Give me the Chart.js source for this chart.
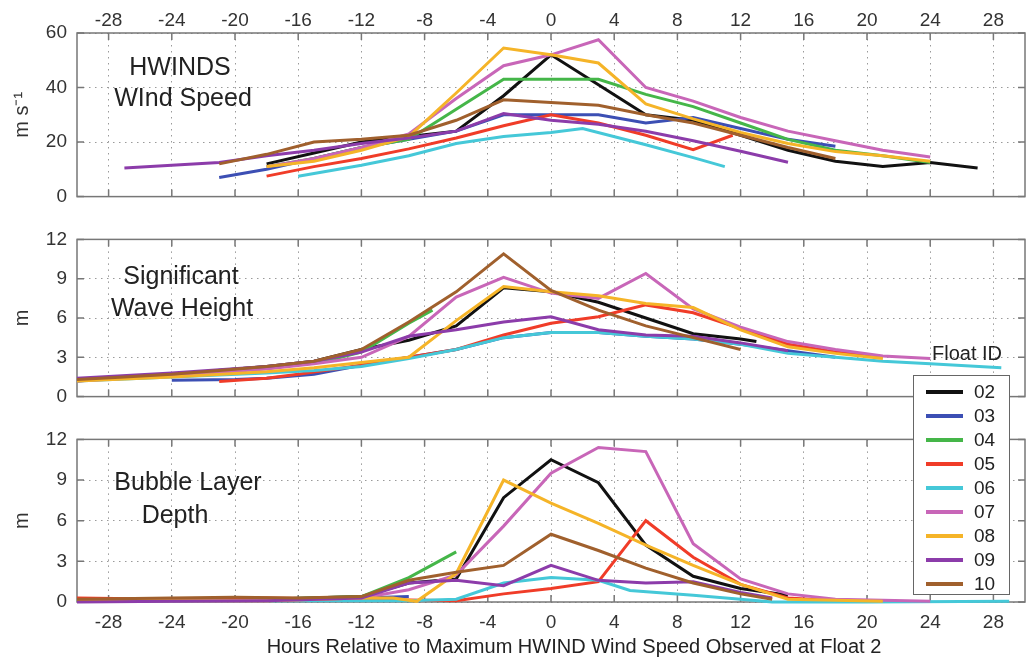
<!DOCTYPE html>
<html>
<head>
<meta charset="utf-8">
<title>Float time series</title>
<script src="https://cdn.jsdelivr.net/npm/chart.js@4.4.1/dist/chart.umd.min.js"></script>
<style>
  body { margin: 0; background: #fff; width: 1030px; height: 661px; overflow: hidden; position: relative;
         font-family: 'Liberation Sans', Arial, Helvetica, sans-serif; }
  .panel { position: absolute; left: 0; width: 1030px; }
  #legendTitle { position: absolute; left: 913px; width: 108px; top: 340px; height: 26px; line-height: 26px;
                 text-align: center; font-size: 20px; color: #222; z-index: 5; }
  #legendBox { position: absolute; left: 913px; top: 375px; width: 97px; height: 220px; background: #fff;
               border: 1.5px solid #666; z-index: 5; padding-top: 4px; box-sizing: border-box; }
  .legendRow { position: relative; height: 24px; }
  .legendRow span.swatch { position: absolute; left: 12px; top: 10px; width: 37px; height: 4px; }
  .legendRow span.txt { position: absolute; left: 60px; top: 0; line-height: 24px; font-size: 19px; color: #222; }
</style>
</head>
<body>
<div class="panel" style="top:0;height:218px"><canvas id="windChart"></canvas></div>
<div class="panel" style="top:218px;height:200px"><canvas id="waveChart"></canvas></div>
<div class="panel" style="top:418px;height:243px"><canvas id="bubbleChart"></canvas></div>
<div id="legendTitle">Float ID</div>
<div id="legendBox"></div>
<script>
// Float ids and their line colours
const floatIds = ['02', '03', '04', '05', '06', '07', '08', '09', '10'];
const floatColors = ['#111111', '#3c4fb4', '#45b649', '#f03c28', '#45c8d8', '#c866b8', '#f5b428', '#8c3caa', '#a0602d'];

// Hours relative to max HWIND wind speed at float 2
const xTicks = [-28, -24, -20, -16, -12, -8, -4, 0, 4, 8, 12, 16, 20, 24, 28];

// HWINDS wind speed (m/s), [hour, value]
const wind02 = [[-18,12],[-15,16],[-12,20],[-9,22],[-6,24],[-3,37],[0,52],[3,41],[6,30],[9,28],[12,22.5],[15,17],[18,13],[21,11],[24,12.5],[27,10.5]];
const wind03 = [[-21,7],[-18,10],[-15,14],[-12,18],[-9,21],[-6,24],[-3,30],[0,30],[3,30],[6,27],[9,29],[12,25],[15,21],[18,18.5]];
const wind04 = [[-18,11],[-15,14],[-12,18],[-9,21],[-6,32],[-3,43],[0,43],[3,43],[6,37.5],[9,33],[12,27],[15,21],[18,17],[21,15],[24,12.5]];
const wind05 = [[-18,7.5],[-15,11],[-12,14],[-9,17.5],[-6,21.5],[-3,26],[0,30],[3,27],[6,22.5],[9,17.2],[11.5,22.5]];
const wind06 = [[-16,7.5],[-12,11.5],[-9,15],[-6,19.5],[-3,22],[0,23.5],[2,25],[6,19],[9,14.3],[11,11]];
const wind07 = [[-18,11],[-15,14],[-12,18],[-9,23],[-6,36],[-3,48],[0,52],[3,57.5],[6,40],[9,35],[12,29],[15,24],[18,20.5],[21,17],[24,14.5]];
const wind08 = [[-18,11],[-15,13],[-12,17],[-9,22],[-6,38],[-3,54.5],[0,52],[3,49],[6,34],[9,28.5],[12,23.5],[15,19.5],[18,16.5],[21,15],[24,13]];
const wind09 = [[-27,10.5],[-24,11.5],[-21,12.5],[-18,15],[-15,17],[-12,19.5],[-9,21.5],[-6,24],[-3,30.5],[0,28],[3,26.5],[6,24],[9,20.5],[12,16.6],[15,12.6]];
const wind10 = [[-21,12],[-18,15.5],[-15,20],[-12,21],[-9,22.5],[-6,28],[-3,35.5],[0,34.5],[3,33.5],[6,30],[9,27],[12,22.5],[15,18],[18,14]];

// Significant wave height (m)
const wave02 = [[-30,1.2],[-24,1.7],[-18,2.3],[-15,2.7],[-12,3.6],[-9,4.3],[-6,5.4],[-3,8.3],[0,8.0],[3,7.2],[6,6.0],[9,4.8],[12,4.4],[13,4.2]];
const wave03 = [[-24,1.25],[-20,1.3],[-18,1.4],[-15,1.7],[-12,2.4],[-9,3.0],[-6,3.6],[-3,4.5],[0,4.9],[3,4.9],[6,4.6],[9,4.4],[12,4.0],[15,3.5],[18,3.0]];
const wave04 = [[-30,1.3],[-24,1.7],[-18,2.2],[-14,2.8],[-12,3.4],[-9,5.6],[-7.5,6.6]];
const wave05 = [[-21,1.15],[-18,1.4],[-16,1.7],[-12,2.4],[-9,3.0],[-6,3.6],[-3,4.7],[0,5.6],[3,6.1],[6,7.0],[9,6.4],[12,5.2],[15,4.0],[18,3.4],[21,3.0]];
const wave06 = [[-30,1.2],[-24,1.5],[-18,1.8],[-15,2.0],[-12,2.3],[-9,2.9],[-6,3.6],[-3,4.5],[0,4.9],[3,4.9],[6,4.6],[9,4.4],[12,4.0],[15,3.3],[18,3.0],[21,2.7],[24,2.5],[28.5,2.2]];
const wave07 = [[-30,1.2],[-24,1.6],[-18,2.1],[-15,2.5],[-12,3.0],[-9,4.6],[-6,7.6],[-3,9.1],[0,7.9],[3,7.5],[6,9.4],[9,6.7],[12,5.3],[15,4.2],[18,3.6],[21,3.1],[24,2.9]];
const wave08 = [[-30,1.2],[-24,1.5],[-18,1.9],[-15,2.2],[-12,2.6],[-9,3.0],[-6,5.8],[-3,8.4],[0,8.0],[3,7.7],[6,7.1],[9,6.8],[12,5.1],[15,3.8],[18,3.3],[21,2.9]];
const wave09 = [[-30,1.4],[-24,1.8],[-18,2.3],[-15,2.7],[-12,3.4],[-9,4.6],[-6,5.1],[-3,5.7],[0,6.1],[3,5.1],[6,4.7],[9,4.6],[12,4.1],[15,3.5]];
const wave10 = [[-30,1.3],[-27,1.5],[-24,1.7],[-21,2.0],[-18,2.3],[-15,2.7],[-12,3.6],[-9,5.7],[-6,8.0],[-3,10.9],[0,8.1],[3,6.6],[6,5.4],[9,4.5],[12,3.6]];

// Bubble layer depth (m)
const bubble02 = [[-30,0.1],[-24,0.2],[-18,0.2],[-12,0.4],[-9,1.4],[-6,1.7],[-3,7.7],[0,10.5],[3,8.8],[6,4.2],[9,1.9],[12,1.0],[15,0.5]];
const bubble03 = [[-24,0.1],[-18,0.15],[-12,0.3],[-9,0.4]];
const bubble04 = [[-30,0.1],[-24,0.2],[-18,0.2],[-12,0.4],[-9,1.8],[-6,3.7]];
const bubble05 = [[-30,0.3],[-24,0.2],[-18,0.3],[-12,0.2],[-6,0.1],[-3,0.6],[0,1.0],[3,1.5],[6,6.0],[9,3.3],[12,1.3],[15,0.3],[18,0.1],[21,0.05]];
const bubble06 = [[-30,0.05],[-18,0.1],[-12,0.1],[-9,0.1],[-6,0.2],[-3,1.4],[0,1.8],[3,1.6],[5,0.85],[9,0.5],[12,0.2],[14,0],[20,0],[29,0.05]];
const bubble07 = [[-30,0.1],[-24,0.1],[-18,0.1],[-12,0.3],[-9,0.9],[-6,2.0],[-3,5.6],[0,9.5],[3,11.4],[6,11.1],[9,4.3],[12,1.7],[15,0.6],[18,0.2],[24,0.05]];
const bubble08 = [[-30,0.1],[-24,0.1],[-18,0.1],[-12,0.3],[-10,0.3],[-8.5,0.05],[-6,2.1],[-3,9.0],[0,7.3],[3,5.8],[6,4.2],[9,2.7],[12,1.3],[15,0.2],[21,0.05]];
const bubble09 = [[-30,0.0],[-24,0.05],[-18,0.1],[-12,0.3],[-9,1.4],[-6,1.6],[-3,1.2],[0,2.7],[3,1.6],[6,1.4],[9,1.5],[12,0.7],[14,0.3]];
const bubble10 = [[-30,0.2],[-24,0.3],[-20,0.35],[-16,0.3],[-12,0.4],[-9,1.6],[-6,2.2],[-3,2.7],[0,5.0],[3,3.8],[6,2.5],[9,1.4],[12,0.6],[14,0.2]];

const windSeries = [wind02, wind03, wind04, wind05, wind06, wind07, wind08, wind09, wind10];
const waveSeries = [wave02, wave03, wave04, wave05, wave06, wave07, wave08, wave09, wave10];
const bubbleSeries = [bubble02, bubble03, bubble04, bubble05, bubble06, bubble07, bubble08, bubble09, bubble10];

const fontFamily = "'Liberation Sans', Arial, Helvetica, sans-serif";
Chart.defaults.font.family = fontFamily;
Chart.defaults.color = '#333';

// box round the plot with inward tick marks
const framePlugin = {
    id: 'frame',
    beforeDatasetsDraw(chart) {
        const ctx = chart.ctx;
        const a = chart.chartArea;
        const sx = chart.scales.x, sy = chart.scales.y;
        ctx.save();
        ctx.strokeStyle = '#777';
        ctx.lineWidth = 1.5;
        ctx.strokeRect(a.left, a.top, a.right - a.left, a.bottom - a.top);
        ctx.beginPath();
        xTicks.forEach(v => {
            const px = sx.getPixelForValue(v);
            ctx.moveTo(px, a.top); ctx.lineTo(px, a.top + 7);
            ctx.moveTo(px, a.bottom); ctx.lineTo(px, a.bottom - 7);
        });
        sy.ticks.forEach(t => {
            const py = sy.getPixelForValue(t.value);
            ctx.moveTo(a.left, py); ctx.lineTo(a.left + 7, py);
            ctx.moveTo(a.right, py); ctx.lineTo(a.right - 7, py);
        });
        ctx.stroke();
        ctx.restore();
    }
};

// free text labels inside the panels
const notePlugin = {
    id: 'notes',
    afterDraw(chart, args, opts) {
        const ctx = chart.ctx;
        ctx.save();
        ctx.fillStyle = '#222';
        ctx.textAlign = 'center';
        ctx.textBaseline = 'middle';
        (opts.items || []).forEach(it => {
            ctx.font = (it.size || 25) + 'px ' + fontFamily;
            ctx.fillText(it.text, it.x, it.y);
        });
        ctx.restore();
    }
};

function makeDatasets(series) {
    return series.map((pts, i) => ({
        label: floatIds[i],
        data: pts.map(p => ({ x: p[0], y: p[1] })),
        borderColor: floatColors[i],
        backgroundColor: floatColors[i],
        borderWidth: 3,
        pointRadius: 0,
        tension: 0,
        fill: false,
        clip: false,
        order: series.length - i
    }));
}

function makeChart(id, series, cfg) {
    return new Chart(document.getElementById(id), {
        type: 'line',
        data: { datasets: makeDatasets(series) },
        plugins: [framePlugin, notePlugin],
        options: {
            responsive: true,
            maintainAspectRatio: false,
            animation: false,
            devicePixelRatio: 1,
            layout: { padding: { left: 0, right: 5, top: cfg.padTop, bottom: cfg.padBottom } },
            plugins: {
                legend: { display: false },
                tooltip: { enabled: false },
                notes: { items: cfg.notes }
            },
            scales: {
                x: {
                    type: 'linear',
                    position: cfg.xPos,
                    min: -30,
                    max: 30,
                    afterBuildTicks: s => { s.ticks = xTicks.map(v => ({ value: v })); },
                    afterFit: s => { s.height = cfg.xHeight; },
                    ticks: { display: cfg.xLabels, padding: cfg.xPad, color: '#333', font: { size: 19 }, maxRotation: 0 },
                    grid: { color: '#9a9a9a', lineWidth: 1, drawTicks: false },
                    border: { display: false, dash: [1.5, 4.5] }
                },
                y: {
                    min: 0,
                    max: cfg.yMax,
                    afterFit: s => { s.width = 77; },
                    ticks: { stepSize: cfg.yStep, padding: 10, color: '#333', font: { size: 19 } },
                    grid: { color: '#9a9a9a', lineWidth: 1, drawTicks: false },
                    border: { display: false, dash: [1.5, 4.5] },
                    title: { display: true, text: cfg.yTitle, color: '#333', font: { size: 20 }, padding: { top: 10, bottom: 0 } }
                }
            }
        }
    });
}

makeChart('windChart', windSeries, {
    padTop: 0, padBottom: 14, xPos: 'top', xHeight: 33, xLabels: true, xPad: 1,
    yMax: 60, yStep: 20, yTitle: 'm s\u207B\u00B9',
    notes: [{ text: 'HWINDS', x: 180, y: 68 }, { text: 'WInd Speed', x: 183, y: 99 }]
});

makeChart('waveChart', waveSeries, {
    padTop: 15, padBottom: 13, xPos: 'bottom', xHeight: 0, xLabels: false, xPad: 0,
    yMax: 12, yStep: 3, yTitle: 'm',
    notes: [{ text: 'Significant', x: 181, y: 59 }, { text: 'Wave Height', x: 182, y: 91 }]
});

makeChart('bubbleChart', bubbleSeries, {
    padTop: 12, padBottom: 0, xPos: 'bottom', xHeight: 59, xLabels: true, xPad: 9,
    yMax: 12, yStep: 3, yTitle: 'm',
    notes: [{ text: 'Bubble Layer', x: 188, y: 65 }, { text: 'Depth', x: 175, y: 98 },
            { text: 'Hours Relative to Maximum HWIND Wind Speed Observed at Float 2', x: 574, y: 229, size: 20 }]
});

// Legend built from the float ids and colours
const legendBox = document.getElementById('legendBox');
floatIds.forEach((id, i) => {
    const row = document.createElement('div');
    row.className = 'legendRow';
    row.innerHTML = '<span class="swatch" style="background:' + floatColors[i] + '"></span><span class="txt">' + id + '</span>';
    legendBox.appendChild(row);
});
</script>
</body>
</html>
